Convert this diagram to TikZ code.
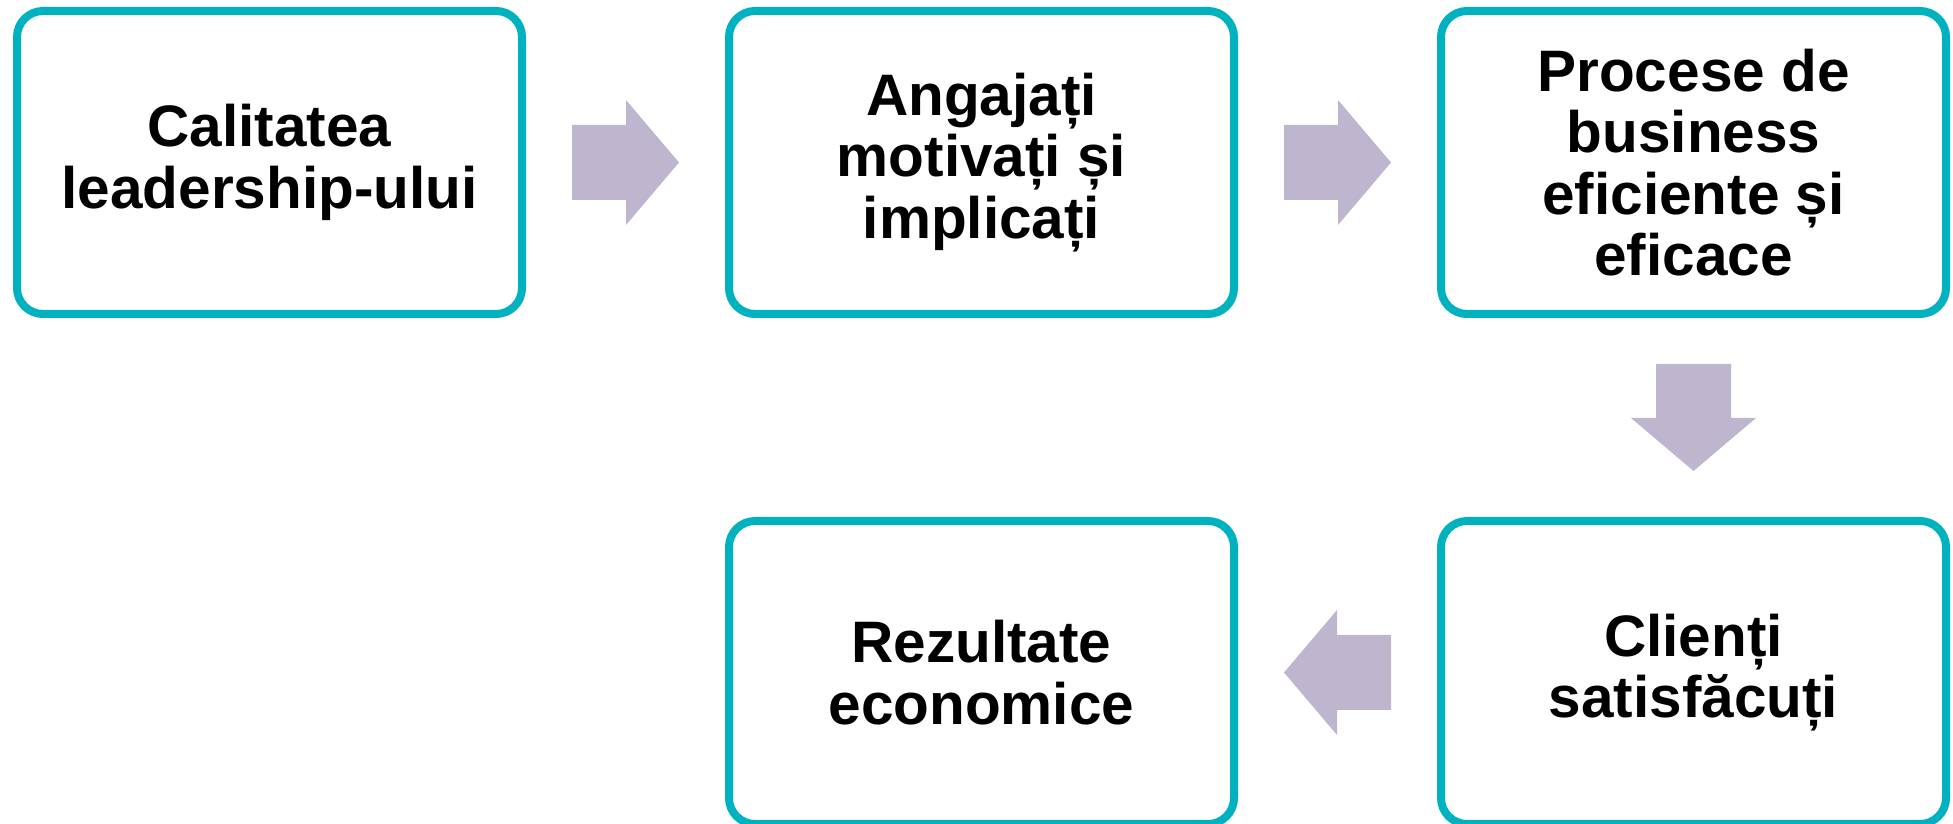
\documentclass[tikz,border=0pt]{standalone}
\usepackage{fontspec}
\setmainfont{Liberation Sans}
\usetikzlibrary{positioning,calc}
\definecolor{rim}{RGB}{0,178,191}
\definecolor{lilac}{RGB}{190,181,206}
\begin{document}
\begin{tikzpicture}[x=1pt,y=1pt,
    card/.style={draw=rim,line width=8pt,rounded corners=26pt,outer sep=0pt,
      minimum width=505pt,minimum height=303pt,align=center,
      font=\fontsize{58.5}{61.5}\selectfont\bfseries},
    barrow/.pic={\fill[lilac](-53.5,-37.5)--(.5,-37.5)--(.5,-62.5)--(53.5,0)
      --(.5,62.5)--(.5,37.5)--(-53.5,37.5)--cycle;}]
  \useasboundingbox(0,0)rectangle(1953,824);
  \node[card](lead)at(269.5,661.5){Calitatea\\leadership-ului};
  \node[card,right=207pt of lead](staff){Angajați\\motivați și\\implicați};
  \node[card,right=207pt of staff](proc){Procese de\\business\\eficiente și\\eficace};
  \node[card,below=207pt of proc](client){Clienți\\satisfăcuți};
  \node[card,left=207pt of client](result){Rezultate\\economice};
  % block arrows between the cards
  \path($(lead.east)!.5!(staff.west)$)pic{barrow};
  \path($(staff.east)!.5!(proc.west)$)pic{barrow};
  \path($(proc.south)!.5!(client.north)$)pic[rotate=-90]{barrow};
  \path($(client.west)!.5!(result.east)$)pic[rotate=180]{barrow};
\end{tikzpicture}
\end{document}
